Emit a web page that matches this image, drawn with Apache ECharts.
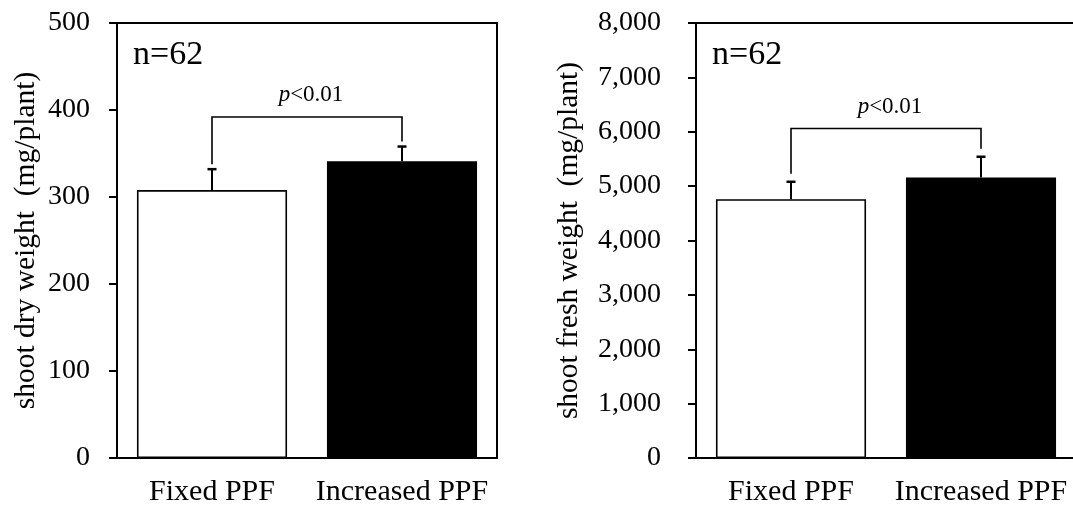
<!DOCTYPE html>
<html>
<head>
<meta charset="utf-8">
<script src="https://cdn.jsdelivr.net/npm/echarts@6/dist/echarts.min.js"></script>
<style>
  html, body { margin: 0; padding: 0; background: #fff; }
  #chart { width: 1073px; height: 509px; }
</style>
</head>
<body>
<div id="chart"></div>
<script>
// Shoot dry / fresh weight under fixed vs. increased PPF (mean + SD)
const categories = ['Fixed PPF', 'Increased PPF'];
const dryMean = [308, 341];
const dryErr = [24, 17];
const freshMean = [4760, 5160];
const freshErr = [320, 380];
const dryTicks = [0, 100, 200, 300, 400, 500];
const freshTicks = [0, 1000, 2000, 3000, 4000, 5000, 6000, 7000, 8000];
const sampleLabel = 'n=62';
const pLabel = ['p', '<0.01'];
// height of the significance bracket, in axis units
const dryBracket = 392;
const freshBracket = 6060;

const FONT = '"Liberation Serif", "Times New Roman", serif';
const INK = '#000';

const GRID_TOP = 23, GRID_H = 435, GRID_W = 380;
const GRID_LEFT = [117, 696];

function yAxisFor(idx, ticks, name, labelMargin, nameGap) {
  return {
    type: 'value', gridIndex: idx,
    min: ticks[0], max: ticks[ticks.length - 1],
    interval: ticks[1] - ticks[0],
    splitLine: { show: false },
    axisLine: { show: true, lineStyle: { color: INK, width: 2 } },
    axisTick: { show: true, inside: false, length: 8, lineStyle: { color: INK, width: 2 } },
    axisLabel: {
      color: INK, fontSize: 28, fontFamily: FONT, margin: labelMargin,
      formatter: v => v.toLocaleString('en-US')
    },
    name: name, nameLocation: 'middle', nameGap: nameGap, nameRotate: 90,
    nameTextStyle: { color: INK, fontSize: 29.5, fontFamily: FONT }
  };
}

function xAxisFor(idx) {
  return {
    type: 'category', gridIndex: idx, data: categories,
    axisTick: { show: false },
    axisLine: { lineStyle: { color: INK, width: 2 } },
    axisLabel: { color: INK, fontSize: 30, fontFamily: FONT, margin: 19, interval: 0, hideOverlap: false }
  };
}

function barSeries(idx, values) {
  return {
    type: 'bar', xAxisIndex: idx, yAxisIndex: idx,
    barWidth: '79%', silent: true,
    data: values.map((v, i) => ({
      value: v,
      itemStyle: { color: i === 0 ? '#fff' : '#000', borderColor: INK, borderWidth: 1.6 }
    }))
  };
}

function errorSeries(idx, means, errs) {
  return {
    type: 'custom', xAxisIndex: idx, yAxisIndex: idx, silent: true, z: 5,
    data: means.map((m, i) => [i, m, errs[i]]),
    renderItem: (params, api) => {
      const i = api.value(0), m = api.value(1), e = api.value(2);
      const base = api.coord([i, m]);
      const top = api.coord([i, m + e]);
      return {
        type: 'group',
        children: [
          { type: 'line', shape: { x1: base[0], y1: base[1], x2: top[0], y2: top[1] },
            style: { stroke: INK, lineWidth: 2 } },
          { type: 'line', shape: { x1: top[0] - 4.5, y1: top[1], x2: top[0] + 4.5, y2: top[1] },
            style: { stroke: INK, lineWidth: 2.5 } }
        ]
      };
    }
  };
}

function bracketSeries(idx, means, errs, level, legGap) {
  return {
    type: 'custom', xAxisIndex: idx, yAxisIndex: idx, silent: true, z: 5,
    data: [[0, level]],
    renderItem: (params, api) => {
      const lvl = api.value(1);
      const a = api.coord([0, means[0] + errs[0]]);
      const b = api.coord([1, means[1] + errs[1]]);
      const y = api.coord([0, lvl])[1];
      const cx = (a[0] + b[0]) / 2;
      return {
        type: 'group',
        children: [
          { type: 'polyline',
            shape: { points: [[a[0], a[1] - legGap], [a[0], y], [b[0], y], [b[0], b[1] - legGap]] },
            style: { stroke: INK, lineWidth: 1.6, fill: null } },
          { type: 'text', x: cx + 4, y: y - 22,
            style: {
              text: '{i|' + pLabel[0] + '}{r|' + pLabel[1] + '}',
              align: 'center', verticalAlign: 'middle',
              rich: {
                i: { fontStyle: 'italic', fontSize: 23, fontFamily: FONT, fill: INK },
                r: { fontSize: 23, fontFamily: FONT, fill: INK }
              }
            } }
        ]
      };
    }
  };
}

const chart = echarts.init(document.getElementById('chart'), null, { renderer: 'canvas' });
chart.setOption({
  animation: false,
  backgroundColor: '#fff',
  grid: GRID_LEFT.map(l => ({
    left: l, top: GRID_TOP, width: GRID_W, height: GRID_H,
    outerBoundsMode: 'none', containLabel: false,
    show: true, borderColor: INK, borderWidth: 2, backgroundColor: 'transparent'
  })),
  xAxis: [xAxisFor(0), xAxisFor(1)],
  yAxis: [
    yAxisFor(0, dryTicks, 'shoot dry weight  (mg/plant)', 27, 76),
    yAxisFor(1, freshTicks, 'shoot fresh weight  (mg/plant)', 35, 112)
  ],
  graphic: GRID_LEFT.map(l => ({
    type: 'text', x: l + 16, y: 55,
    style: { text: sampleLabel, fontSize: 34, fontFamily: FONT, fill: INK, verticalAlign: 'middle' }
  })),
  series: [
    barSeries(0, dryMean),
    errorSeries(0, dryMean, dryErr),
    bracketSeries(0, dryMean, dryErr, dryBracket, 5),
    barSeries(1, freshMean),
    errorSeries(1, freshMean, freshErr),
    bracketSeries(1, freshMean, freshErr, freshBracket, 8)
  ]
});
</script>
</body>
</html>
